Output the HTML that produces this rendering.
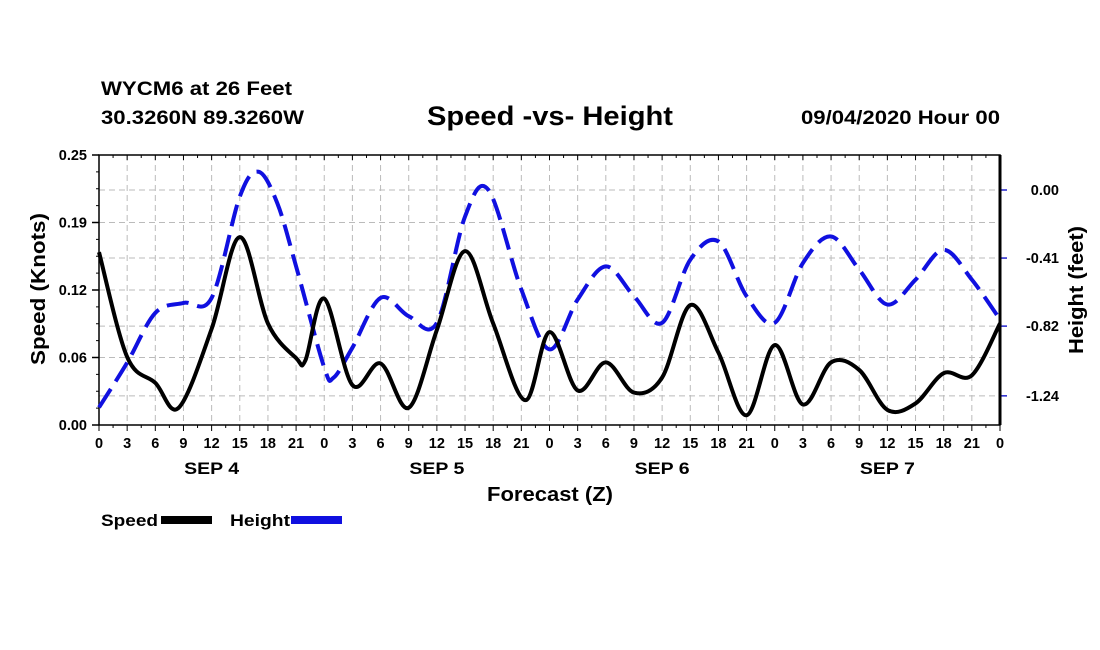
<!DOCTYPE html>
<html><head><meta charset="utf-8"><style>
body{margin:0;background:#fff;}
svg{display:block;font-family:"Liberation Sans",Arial,sans-serif;font-weight:bold;}
</style></head><body>
<svg id="chart" width="1100" height="650" viewBox="0 0 1100 650">
<text x="101" y="95" font-size="19" textLength="191" lengthAdjust="spacingAndGlyphs">WYCM6 at 26 Feet</text>
<text x="101" y="124" font-size="19" textLength="203" lengthAdjust="spacingAndGlyphs">30.3260N 89.3260W</text>
<text x="427" y="125" font-size="27" textLength="246" lengthAdjust="spacingAndGlyphs">Speed -vs- Height</text>
<text x="801" y="124" font-size="19" textLength="199" lengthAdjust="spacingAndGlyphs">09/04/2020 Hour 00</text>
<g id="grid"></g>
<g id="axes"></g>
<g id="series"></g>
<text x="487" y="501" font-size="20" textLength="126" lengthAdjust="spacingAndGlyphs">Forecast (Z)</text>
<text transform="translate(45,365) rotate(-90)" font-size="20" textLength="152" lengthAdjust="spacingAndGlyphs">Speed (Knots)</text>
<text transform="translate(1083,354) rotate(-90)" font-size="20" textLength="128" lengthAdjust="spacingAndGlyphs">Height (feet)</text>
<g>
<text x="101" y="526" font-size="17" textLength="57" lengthAdjust="spacingAndGlyphs">Speed</text>
<rect x="161" y="516" width="51" height="8" fill="#000"/>
<text x="230" y="526" font-size="17" textLength="60" lengthAdjust="spacingAndGlyphs">Height</text>
<rect x="291" y="516" width="51" height="8" fill="#1010e0"/>
</g>
</svg>
<script>
const speedHours=[0,3,6,8.5,12,15,18,21,22,24,27,30,33,36,39,42,45.4,48,51,54,57,60,63,66,69,72,75,78,81,84,87,90,93,96];
const speedVals=[0.160,0.063,0.039,0.016,0.089,0.174,0.094,0.062,0.060,0.117,0.037,0.057,0.016,0.088,0.161,0.094,0.023,0.086,0.032,0.058,0.030,0.044,0.111,0.067,0.009,0.074,0.019,0.058,0.051,0.014,0.020,0.048,0.046,0.094];
const heightHours=[0,3,6,9,12,15,17,19,21,24,25,27,30,33,36,39,41.5,45,48,51,54,57,60,63,66,69,72,75,78,81,84,87,90,93,96];
const heightVals=[-1.31,-1.04,-0.74,-0.68,-0.65,-0.04,0.11,-0.08,-0.46,-1.07,-1.13,-0.95,-0.65,-0.76,-0.80,-0.16,0.00,-0.60,-0.96,-0.66,-0.46,-0.64,-0.80,-0.42,-0.31,-0.64,-0.80,-0.44,-0.28,-0.48,-0.69,-0.54,-0.36,-0.54,-0.78];
const leftTicks=[0,0.0625,0.125,0.1875,0.25];
const leftTickLabels=["0.00","0.06","0.12","0.19","0.25"];
const rightTicks=[0,-0.41,-0.82,-1.24];
const rightTickLabels=["0.00","-0.41","-0.82","-1.24"];
const hourLabels=["0","3","6","9","12","15","18","21"];
const dayLabels=["SEP 4","SEP 5","SEP 6","SEP 7"];

const L=99,R=1000,T=155,B=425;
const xS=h=>L+h*(R-L)/96;
const yS=v=>B-v*(B-T)/0.25;
const yH=v=>190-v*166;
const NS="http://www.w3.org/2000/svg";
function mk(tag,attrs,parent,txt){const e=document.createElementNS(NS,tag);for(const k in attrs)e.setAttribute(k,attrs[k]);if(txt!==undefined)e.textContent=txt;parent.appendChild(e);return e;}
const grid=document.getElementById('grid'),axes=document.getElementById('axes'),series=document.getElementById('series');
const gs={stroke:'#bbb','stroke-width':1,'stroke-dasharray':'6,4'};
for(let h=3;h<96;h+=3){const l=mk('line',Object.assign({x1:xS(h),x2:xS(h),y1:T,y2:B},gs),grid);

}
leftTicks.forEach((v,i)=>{if(i>0&&i<4){const l=mk('line',Object.assign({x1:L,x2:R,y1:yS(v),y2:yS(v)},gs),grid);

}
const t=mk('text',{x:87,y:yS(v)+5,'font-size':14.5,'text-anchor':'end'},axes,leftTickLabels[i]);


mk('line',{x1:L-7,x2:L,y1:yS(v),y2:yS(v),stroke:'#000','stroke-width':1.5},axes);});
for(let v=0;v<=0.25;v+=0.25/16){mk('line',{x1:L-3,x2:L,y1:yS(v),y2:yS(v),stroke:'#000'},axes);}
rightTicks.forEach((v,i)=>{const l=mk('line',Object.assign({x1:L,x2:R,y1:yH(v),y2:yH(v)},gs),grid);


mk('line',{x1:R,x2:R+7,y1:yH(v),y2:yH(v),stroke:'#22c','stroke-width':1.5},axes);
const t=mk('text',{x:1059,y:yH(v)+5,'font-size':14.5,'text-anchor':'end'},axes,rightTickLabels[i]);

});
mk('rect',{x:L,y:T,width:R-L,height:B-T,fill:'none',stroke:'#000','stroke-width':1.5},axes);
mk('line',{x1:R,x2:R,y1:T,y2:B,stroke:'#000','stroke-width':3},axes);
for(let h=0;h<=96;h+=1.5){const big=(h%3===0);
mk('line',{x1:xS(h),x2:xS(h),y1:B,y2:B+(big?6:3),stroke:'#000'},axes);
mk('line',{x1:xS(h),x2:xS(h),y1:T,y2:T+(big?5:3),stroke:'#000'},axes);
if(big){const t=mk('text',{x:xS(h),y:B+23,'font-size':14.5,'text-anchor':'middle'},axes,h===96?"0":hourLabels[(h/3)%8]);

}}
dayLabels.forEach((d,i)=>{const t=mk('text',{x:xS(12+24*i),y:474,'font-size':17,'text-anchor':'middle',textLength:55,lengthAdjust:'spacingAndGlyphs'},axes,d);

});
function smooth(pts){let d='M'+pts[0][0]+','+pts[0][1];
for(let i=0;i<pts.length-1;i++){const p0=pts[Math.max(0,i-1)],p1=pts[i],p2=pts[i+1],p3=pts[Math.min(pts.length-1,i+2)];
const c1=[p1[0]+(p2[0]-p0[0])/6,p1[1]+(p2[1]-p0[1])/6],c2=[p2[0]-(p3[0]-p1[0])/6,p2[1]-(p3[1]-p1[1])/6];
d+=' C'+c1[0]+','+c1[1]+' '+c2[0]+','+c2[1]+' '+p2[0]+','+p2[1];}return d;}
const hp=mk('path',{d:smooth(heightHours.map((h,i)=>[xS(h),yH(heightVals[i])])),fill:'none',stroke:'#1010e0','stroke-width':4,'stroke-dasharray':'22,9'},series);


const sp=mk('path',{d:smooth(speedHours.map((h,i)=>[xS(h),yS(speedVals[i])])),fill:'none',stroke:'#000','stroke-width':4},series);


</script>
</body></html>
